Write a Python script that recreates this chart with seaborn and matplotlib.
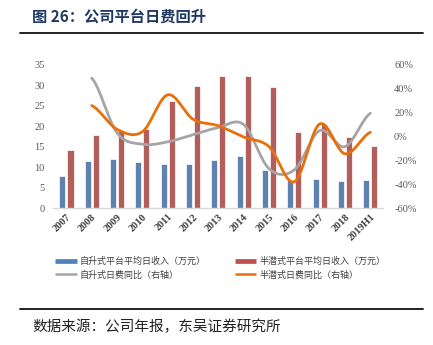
import numpy as np
import pandas as pd
import matplotlib
matplotlib.use('Agg')
import matplotlib.pyplot as plt
import seaborn as sns
from matplotlib.lines import Line2D

years = ['2007', '2008', '2009', '2010', '2011', '2012', '2013', '2014',
         '2015', '2016', '2017', '2018', '2019H1']
jackup_rate = [7.9, 11.6, 12.0, 11.3, 10.8, 10.8, 11.8, 12.8, 9.4, 6.9, 7.1, 6.6, 6.8]
semi_rate = [14.3, 17.9, 18.9, 19.4, 26.2, 29.9, 32.3, 32.2, 29.6, 18.6, 20.5, 17.3, 15.1]
jackup_yoy = [None, 49, 3, -6.5, -4.5, 1.5, 7.5, 10, -27, -28, 5, -8.5, 19.5]
semi_yoy = [None, 26, 6, 4, 35, 14.5, 9, -0.5, -8.5, -38, 10.5, -14.5, 3.5]

name_j = '自升式平台平均日收入（万元）'
name_s = '半潜式平台平均日收入（万元）'
name_jy = '自升式日费同比（右轴）'
name_sy = '半潜式日费同比（右轴）'

C_BLUE = '#4F81BD'
C_RED = '#C0504D'
C_GRAY = '#A5A5A5'
C_ORANGE = '#E8700A'

sns.set_theme(style='white')
plt.rcParams['font.family'] = ['Noto Sans CJK SC', 'DejaVu Sans']
plt.rcParams['axes.unicode_minus'] = False

df = pd.DataFrame({
    'year': years * 2,
    'value': jackup_rate + semi_rate,
    'series': [name_j] * len(years) + [name_s] * len(years),
})


def smooth(xs, ys, n=30):
    """Catmull-Rom style smoothing for rendering (like Excel smoothed lines)."""
    xs = np.asarray(xs, float)
    ys = np.asarray(ys, float)
    k = len(xs)
    m = np.zeros(k)
    for i in range(k):
        if i == 0:
            m[i] = (ys[1] - ys[0]) / 2
        elif i == k - 1:
            m[i] = (ys[-1] - ys[-2]) / 2
        else:
            m[i] = (ys[i + 1] - ys[i - 1]) / 2
    ox, oy = [], []
    for i in range(k - 1):
        t = np.linspace(0, 1, n, endpoint=(i == k - 2))
        h00 = 2 * t**3 - 3 * t**2 + 1
        h10 = t**3 - 2 * t**2 + t
        h01 = -2 * t**3 + 3 * t**2
        h11 = t**3 - t**2
        oy.extend(h00 * ys[i] + h10 * m[i] + h01 * ys[i + 1] + h11 * m[i + 1])
        ox.extend(xs[i] + t * (xs[i + 1] - xs[i]))
    return np.array(ox), np.array(oy)


W, H = 433, 345
fig = plt.figure(figsize=(W / 100, H / 100), dpi=100)
ax = fig.add_axes([53 / W, 1 - 208 / H, 330 / W, 143 / H])

sns.barplot(data=df, x='year', y='value', hue='series', ax=ax,
            palette=[C_BLUE, C_RED], width=0.64, gap=0.25,
            edgecolor='white', linewidth=0.5, legend=False)

ax.set_xlim(-0.53, 12.5)
ax.set_ylim(0, 35)
ax.set_yticks(range(0, 36, 5))
ax.set_xlabel('')
ax.set_ylabel('')
for s in ['left', 'right', 'top']:
    ax.spines[s].set_visible(False)
ax.spines['bottom'].set_color('#D9D9D9')
ax.spines['bottom'].set_linewidth(1.0)
ax.tick_params(axis='both', length=0)
ax.tick_params(axis='y', pad=6, labelsize=7.5, labelcolor='#595959')
ax.tick_params(axis='x', pad=3)
ax.set_xticks(range(len(years)))
ax.set_xticklabels(years, rotation=45, ha='right', rotation_mode='anchor',
                   fontsize=7.5, fontweight='bold', color='#404040',
                   family='Liberation Serif')
for lab in ax.get_yticklabels():
    lab.set_family('Liberation Serif')

ax2 = ax.twinx()
xi = np.arange(len(years))
valid = np.array([v is not None for v in jackup_yoy])
sx, sy = smooth(xi[valid], [v for v in jackup_yoy if v is not None])
sns.lineplot(x=sx, y=sy, ax=ax2, color=C_GRAY, linewidth=2.0, sort=False)
sx, sy = smooth(xi[valid], [v for v in semi_yoy if v is not None])
sns.lineplot(x=sx, y=sy, ax=ax2, color=C_ORANGE, linewidth=2.0, sort=False)
ax2.set_ylim(-60, 60)
ax2.set_xlim(-0.53, 12.5)
ax2.set_yticks(range(-60, 61, 20))
ax2.set_yticklabels([f'{v}%' for v in range(-60, 61, 20)])
for s in ['left', 'right', 'top', 'bottom']:
    ax2.spines[s].set_visible(False)
ax2.tick_params(axis='y', length=0, pad=8, labelsize=7.5, labelcolor='#595959')
for lab in ax2.get_yticklabels():
    lab.set_family('Liberation Serif')
ax2.grid(False)
ax.grid(False)

handles = [
    Line2D([], [], color=C_BLUE, lw=3.4, solid_capstyle='butt'),
    Line2D([], [], color=C_GRAY, lw=1.8, solid_capstyle='butt'),
    Line2D([], [], color=C_RED, lw=3.4, solid_capstyle='butt'),
    Line2D([], [], color=C_ORANGE, lw=1.8, solid_capstyle='butt'),
]
labels = [name_j, name_jy, name_s, name_sy]
leg = fig.legend(handles, labels, ncol=2, loc='upper left',
                 bbox_to_anchor=(55 / W, 1 - 257 / H), frameon=False,
                 fontsize=6.5, handlelength=2.4, handletextpad=0.35,
                 columnspacing=3.2, labelspacing=0.45, borderpad=0,
                 borderaxespad=0)
for t in leg.get_texts():
    t.set_color('#404040')

fig.text(32 / W, 1 - 17 / H, '图 26：公司平台日费回升', fontsize=11,
         fontweight='bold', color='#1F3864', va='center', ha='left')
fig.add_artist(Line2D([20 / W, 423 / W], [1 - 33 / H] * 2, color='#222222', lw=1.4))
fig.add_artist(Line2D([20 / W, 423 / W], [1 - 309 / H] * 2, color='#222222', lw=1.4))
fig.text(32 / W, 1 - 327 / H, '数据来源：公司年报，东吴证券研究所', fontsize=10.5,
         color='#222222', va='center', ha='left')

fig.savefig('out.png', dpi=100, facecolor='white')
